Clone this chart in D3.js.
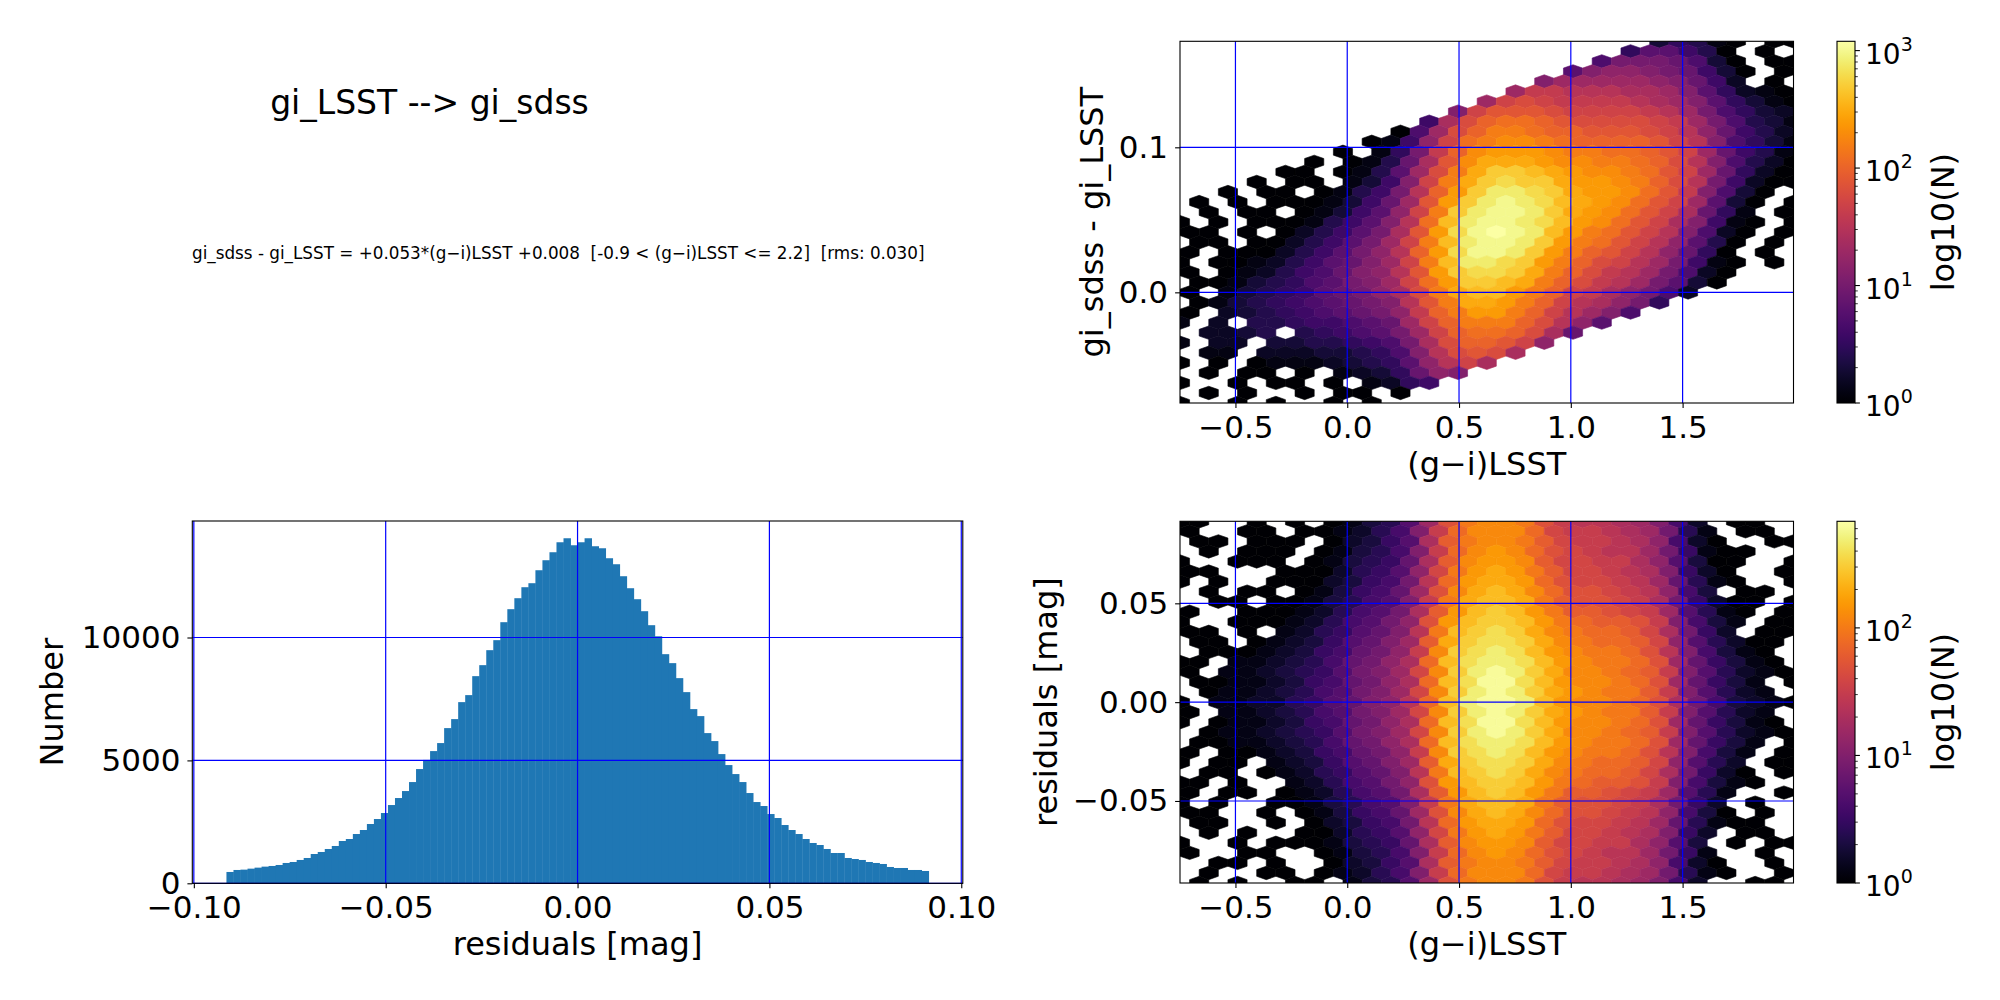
<!DOCTYPE html>
<html>
<head>
<meta charset="utf-8">
<script src="https://cdn.jsdelivr.net/npm/d3@7/dist/d3.min.js"></script>
<style>
html,body{margin:0;padding:0;background:#ffffff;overflow:hidden;}
svg{display:block;}
text{font-family:"DejaVu Sans",sans-serif;fill:#000;}
</style>
</head>
<body>
<svg id="fig" width="2000" height="1000" xmlns="http://www.w3.org/2000/svg"></svg>
<script>
// ======================= DATA =======================
const titleText = "gi_LSST --> gi_sdss";
const fitText = "gi_sdss - gi_LSST = +0.053*(g\u2212i)LSST +0.008  [-0.9 < (g\u2212i)LSST <= 2.2]  [rms: 0.030]";

// histogram of residuals: 100 equal bins over histBinRange
const histBinRange = [-0.0915, 0.0915];
const histCounts = [
  461, 542, 556, 596, 637, 678, 705, 745, 827, 867,
  949, 1030, 1192, 1274, 1396, 1518, 1721, 1802, 2005, 2168,
  2412, 2615, 2859, 3184, 3469, 3753, 4119, 4648, 5020, 5379,
  5705, 6314, 6680, 7371, 7656, 8428, 8875, 9485, 9892, 10623,
  11152, 11599, 12046, 12209, 12737, 13144, 13469, 13875, 14038, 13753,
  13875, 14038, 13713, 13631, 13225, 12981, 12493, 12005, 11558, 11070,
  10501, 10050, 9322, 8957, 8347, 7778, 7087, 6802, 6111, 5786,
  5257, 4810, 4444, 4119, 3672, 3306, 3144, 2818, 2656, 2371,
  2168, 2005, 1802, 1640, 1558, 1396, 1233, 1233, 1030, 989,
  949, 867, 827, 786, 664, 623, 623, 542, 542, 501
];
const histXTicks = [-0.10, -0.05, 0.00, 0.05, 0.10];
const histYTicks = [0, 5000, 10000];

const colorXTicks = [-0.5, 0.0, 0.5, 1.0, 1.5];
const fitYTicks = [0.0, 0.1];
const residYTicks = [-0.05, 0.00, 0.05];

const colorRange = [-0.748, 1.996];     // (g-i)LSST extent of hex grid
const fitDiffRange = [-0.0763, 0.1731]; // gi_sdss - gi_LSST extent
const residRange = [-0.0915, 0.0915];   // residual extent
const fitCountMax = 1200;
const residCountMax = 685;
const hexColumns = 32;

// hex cells, top row first; char = log10(N)*10 in base 36 ('0'..'9','A'..'V'), '.' = empty
const fitHexRows = [
  ".........................35410.00",
  ".......................588640.0.",
  "......................7AAA9730.00",
  "....................8BCCBA9630.0",
  "...................BDDDDDCB962.0.",
  ".................DGGFFFEEDB85210",
  "................DHIHGGGGFEDB85310",
  "..............BHJJJIHHHHGFDA7532",
  ".............6EIKLLKJIIIIHGDA7431",
  "...........07DIKMMLKKJJJIHFC9642",
  "..........016CHLMNNMLKKKKJHFB7531",
  "........0.15AGKNOOONMMLLKJHD9641",
  ".......0.0149EJNPPPONNMMLKIFB7420",
  ".....00.0148DIMPRRQPONNMLJHD9520",
  "....0.00.136BHMPRSRRPOONMKIFA6200",
  "..0.00.0146AFKORTTSRPOONLJGB730.",
  ".0.0.0001369DJORTUTSQPONLJHD830.0",
  ".0.00.01368CHMRTUUTRPONLJHE951.0",
  "0.0.0001468BFLQTUUTSQONLJHEB610.0",
  "00.0.02468AEJOSUVUTQOMLJHFB720.0",
  ".00.002468ADHMQTUUTROMLJHFC840.0.",
  "0.0002468ACFKOSUUTROMKJHFC950.0.",
  "0.00124689BDHMQTTSROMKIHFDA610.0.",
  "0.0124679BCFJORSSRPMKIGFDA720...",
  ".00134578ABDHLORRQPMKIGFDA830....",
  "0.1345689ACEIMPQQOMKHGECA72.....",
  ".013456789ABFJMPPOMKHFECA5.......",
  "0.23456789ACGKMOOMKHFDB7........",
  "1.2.44566789DHKMMMKIFC8..........",
  ".2234.45678ADHKLLKIE9...........",
  "1.22.3344567AEIKKJHC.............",
  ".11.22233457BFIJIE..............",
  "0.0.011123458CFHE................",
  ".0.00.0.12359CB.................",
  "0..0.00.0.1256...................",
  ".0.0..0.00.0....................",
  "0..0.0..0.0......................"
];

const residHexRows = [
  "00..0.0.01347CHKLLKHFEEDCA62.00..",
  "0..00.001246AFJLLLJGFFEDC941.00.",
  ".00.000.02357DIKLLKIGFFEDB620..00",
  ".0.000.01346AFJLMLJHGFEEC95100..",
  "0..000.013458DILMMLIGGFFDB7300..0",
  "00...0002457BGKMNMKIGGFEDA520..0",
  "0.0..00023569EJMNNMJHGGFEC8410..0",
  ".0.00.013568CHLNONLJHHGFEB63.00.",
  "..00.0013467AFKNOONKIHHGFD95200.0",
  "0..000124679DIMOPOMKIIHGFC7410.0",
  "0..000124679BHMOPPOMKJIIHFA631.00",
  "00.0.124578AEKOPQPNLKJJIGD952.00",
  ".00.0123578ACINPQQPNLKJJIGB74200.",
  ".0001235689BFLPQRQOMLKKJHEA6310.",
  "00.11234689BDJOQRRQOMLKKJHC85310.",
  "0.11234579ACGLPRSRPNLLKJIFA74210",
  ".0011235689BDJOQSSQOMLLKJHC8531.0",
  ".011234679ACGLPRSRPNMLKKIFA7421.",
  "0.11224578ABEJORSSROMLLKJHD963210",
  "0.11234679ACGLPRSRPNMLKKIFA7421.",
  "0.011235689BDJOQSSQOMLLKJHC85310.",
  ".011234579ACGLPRSRPNLLKJIFA74210",
  ".0011234689BDJOQRRQOMLKKJHC8531.0",
  "0.001235689BFLPQRQOMLKKJHEA631.0",
  "0.00.123578ACINPQQPNLKJJIGB742.00",
  ".00.0124578AEKOPQPNLKJJIGD9520.0",
  "00.0..124679BHMOPPOMKJIIHFA6310..",
  "0.00.0124679DIMOPOMKIIHGFC741..0",
  "0.0..0013467AFKNOONKIHHGFD952.0..",
  "00..0.013568CHLNONLJHHGFEB630.0.",
  ".00..0.023569EJMNNMJHGGFEC84100..",
  ".0.0..002457BGKMNMKIGGFEDA52.00.",
  "0..0.00013458DILMMLIGGFFDB73.0.00",
  "0..00..01346AFJLMLJHGFEEC951..0.",
  "..00.0..02357DIKLLKIGFFEDB620..0.",
  ".0..00.01246AFJLLLJGFFEDC9410..0",
  ".0.0..00.1347CHKLLKHFEEDCA62..00."
];

// ======================= LAYOUT =======================
const BOX = {
  hist: {x0: 192.3, x1: 962.8, y0: 521.0, y1: 883.3},
  fit:  {x0: 1180,  x1: 1793.5, y0: 41.3, y1: 403.0},
  res:  {x0: 1180,  x1: 1793.5, y0: 521.3, y1: 883.0},
  cbFit:{x0: 1837,  x1: 1855,  y0: 41.3, y1: 403.0},
  cbRes:{x0: 1837,  x1: 1855,  y0: 521.3, y1: 883.0}
};
const TICK_FS = 31, LABEL_FS = 32;
const GRID = "#0000ff";

const svg = d3.select("#fig");
svg.append("rect").attr("width", 2000).attr("height", 1000).attr("fill", "#fff");
const defs = svg.append("defs");

function clipFor(id, b) {
  defs.append("clipPath").attr("id", id).append("rect")
    .attr("x", b.x0).attr("y", b.y0).attr("width", b.x1 - b.x0).attr("height", b.y1 - b.y0);
  return `url(#${id})`;
}
function drawGrid(g, xS, yS, xt, yt, b) {
  g.selectAll(null).data(xt).join("line")
    .attr("x1", d => xS(d)).attr("x2", d => xS(d)).attr("y1", b.y0).attr("y2", b.y1)
    .attr("stroke", GRID).attr("stroke-width", 1.2);
  g.selectAll(null).data(yt).join("line")
    .attr("y1", d => yS(d)).attr("y2", d => yS(d)).attr("x1", b.x0).attr("x2", b.x1)
    .attr("stroke", GRID).attr("stroke-width", 1.2);
}
function drawSpines(g, b) {
  g.append("rect").attr("x", b.x0).attr("y", b.y0).attr("width", b.x1 - b.x0).attr("height", b.y1 - b.y0)
    .attr("fill", "none").attr("stroke", "#000").attr("stroke-width", 1.1);
}
function styleAxis(a) {
  a.attr("font-size", null).attr("font-family", null);
  a.select(".domain").remove();
  a.selectAll("line").attr("stroke", "#000").attr("stroke-width", 1.1);
  a.selectAll("text").attr("font-size", TICK_FS).attr("fill", "#000")
    .style("font-family", "'DejaVu Sans', sans-serif");
}
function xAxis(g, xS, ticks, fmt, b) {
  const ax = d3.axisBottom(xS).tickValues(ticks).tickFormat(fmt).tickSize(4.9).tickPadding(8).tickSizeOuter(0);
  const a = g.append("g").attr("transform", `translate(0,${b.y1})`).call(ax);
  styleAxis(a);
}
function yAxis(g, yS, ticks, fmt, b) {
  const ax = d3.axisLeft(yS).tickValues(ticks).tickFormat(fmt).tickSize(4.9).tickPadding(7).tickSizeOuter(0);
  const a = g.append("g").attr("transform", `translate(${b.x0},0)`).call(ax);
  styleAxis(a);
}
function label(g, txt, x, y, rot) {
  const t = g.append("text").attr("font-size", LABEL_FS).attr("text-anchor", "middle").text(txt);
  if (rot) t.attr("transform", `translate(${x},${y}) rotate(-90)`);
  else t.attr("x", x).attr("y", y);
  return t;
}

// ======================= TEXT PANEL =======================
svg.append("text").attr("x", 429.5).attr("y", 114).attr("font-size", 33)
  .attr("text-anchor", "middle").text(titleText);
svg.append("text").attr("x", 192).attr("y", 259).attr("font-size", 16.8)
  .attr("xml:space", "preserve").style("white-space", "pre").text(fitText);

// ======================= HISTOGRAM =======================
(function () {
  const b = BOX.hist;
  const g = svg.append("g");
  const xS = d3.scaleLinear().domain([-0.1004, 0.1004]).range([b.x0, b.x1]);
  const yS = d3.scaleLinear().domain([0, d3.max(histCounts) * 1.05]).range([b.y1, b.y0]);
  const nb = histCounts.length;
  const bw = (histBinRange[1] - histBinRange[0]) / nb;
  g.append("g").attr("clip-path", clipFor("clipHist", b))
    .selectAll("rect").data(histCounts).join("rect")
    .attr("x", (d, i) => xS(histBinRange[0] + i * bw))
    .attr("width", (d, i) => xS(histBinRange[0] + (i + 1) * bw) - xS(histBinRange[0] + i * bw) + 0.4)
    .attr("y", d => yS(d))
    .attr("height", d => yS(0) - yS(d))
    .attr("fill", "#1f77b4");
  drawGrid(g, xS, yS, histXTicks, histYTicks, b);
  drawSpines(g, b);
  xAxis(g, xS, histXTicks, d3.format(".2f"), b);
  yAxis(g, yS, histYTicks, d3.format("d"), b);
  label(g, "residuals [mag]", (b.x0 + b.x1) / 2, 955, false);
  label(g, "Number", 63, (b.y0 + b.y1) / 2, true);
})();

// ======================= HEXBIN PANELS =======================
function hexPanel(b, cb, rows, yr, vmax, yTicks, yFmt, yLabel, yLabelX, cbTicks, clipId, gradId) {
  const g = svg.append("g");
  const xS = d3.scaleLinear().domain(colorRange).range([b.x0, b.x1]);
  const yS = d3.scaleLinear().domain(yr).range([b.y1, b.y0]);
  const xr = colorRange;
  const dxD = (xr[1] - xr[0]) / hexColumns;
  const dyD = (yr[1] - yr[0]) / (rows.length - 1);
  const hw = (xS(xr[0] + dxD) - xS(xr[0])) / 2;
  const p = Math.abs(yS(yr[1] - dyD) - yS(yr[1]));
  const a = p / 3, c = 2 * p / 3;
  const hexPath = `M${-hw},${-a}L0,${-c}L${hw},${-a}L${hw},${a}L0,${c}L${-hw},${a}Z`;
  const lmax = Math.log10(vmax);
  const cells = [];
  rows.forEach((s, j) => {
    const off = (j % 2) * 0.5;
    for (let i = 0; i < s.length; i++) {
      const ch = s[i];
      if (ch === ".") continue;
      cells.push({x: xr[0] + (i + off) * dxD, y: yr[1] - j * dyD, v: parseInt(ch, 36) / 10});
    }
  });
  const col = d => d3.interpolateInferno(Math.max(0, Math.min(1, d.v / lmax)));
  g.append("g").attr("clip-path", clipFor(clipId, b))
    .selectAll("path").data(cells).join("path")
    .attr("d", hexPath)
    .attr("transform", d => `translate(${xS(d.x)},${yS(d.y)})`)
    .attr("fill", col).attr("stroke", col).attr("stroke-width", 0.6);
  drawGrid(g, xS, yS, colorXTicks, yTicks, b);
  drawSpines(g, b);
  xAxis(g, xS, colorXTicks, d3.format(".1f"), b);
  yAxis(g, yS, yTicks, yFmt, b);
  label(g, "(g\u2212i)LSST", (b.x0 + b.x1) / 2, b.y1 + 72, false);
  label(g, yLabel, yLabelX, (b.y0 + b.y1) / 2, true);

  // colorbar
  const cS = d3.scaleLog().domain([1, vmax]).range([cb.y1, cb.y0]);
  const grad = defs.append("linearGradient").attr("id", gradId)
    .attr("x1", 0).attr("y1", 1).attr("x2", 0).attr("y2", 0);
  d3.range(0, 1.0001, 1 / 64).forEach(t => {
    grad.append("stop").attr("offset", t).attr("stop-color", d3.interpolateInferno(t));
  });
  g.append("rect").attr("x", cb.x0).attr("y", cb.y0).attr("width", cb.x1 - cb.x0)
    .attr("height", cb.y1 - cb.y0).attr("fill", `url(#${gradId})`);
  drawSpines(g, cb);
  const minors = [];
  cbTicks.forEach(d => { for (let m = 2; m <= 9; m++) if (m * d <= vmax) minors.push(m * d); });
  g.selectAll(null).data(minors).join("line")
    .attr("x1", cb.x1).attr("x2", cb.x1 + 2.8).attr("y1", d => cS(d)).attr("y2", d => cS(d))
    .attr("stroke", "#000").attr("stroke-width", 0.8);
  g.selectAll(null).data(cbTicks).join("line")
    .attr("x1", cb.x1).attr("x2", cb.x1 + 4.9).attr("y1", d => cS(d)).attr("y2", d => cS(d))
    .attr("stroke", "#000").attr("stroke-width", 1.1);
  cbTicks.forEach(d => {
    const t = g.append("text").attr("x", cb.x1 + 10).attr("y", cS(d) + 13).attr("font-size", 28);
    t.append("tspan").text("10");
    t.append("tspan").attr("dy", -13).attr("font-size", 19).text(String(Math.round(Math.log10(d))));
  });
  label(g, "log10(N)", 1954, (cb.y0 + cb.y1) / 2, true);
}

hexPanel(BOX.fit, BOX.cbFit, fitHexRows, fitDiffRange, fitCountMax, fitYTicks, d3.format(".1f"),
  "gi_sdss - gi_LSST", 1103, [1, 10, 100, 1000], "clipFit", "gradFit");
hexPanel(BOX.res, BOX.cbRes, residHexRows, residRange, residCountMax, residYTicks, d3.format(".2f"),
  "residuals [mag]", 1057, [1, 10, 100], "clipRes", "gradRes");
</script>
</body>
</html>
